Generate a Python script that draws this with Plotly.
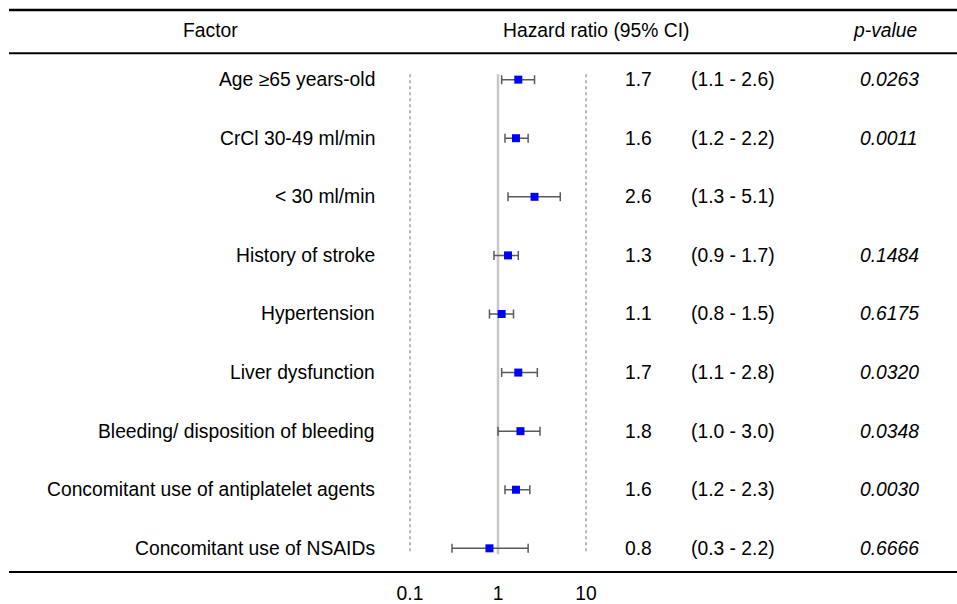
import plotly.graph_objects as go

factors = ["Age ≥65 years-old", "CrCl 30-49 ml/min", "< 30 ml/min", "History of stroke",
           "Hypertension", "Liver dysfunction", "Bleeding/ disposition of bleeding",
           "Concomitant use of antiplatelet agents", "Concomitant use of NSAIDs"]
hr = [1.7, 1.6, 2.6, 1.3, 1.1, 1.7, 1.8, 1.6, 0.8]
ci_low = [1.1, 1.2, 1.3, 0.9, 0.8, 1.1, 1.0, 1.2, 0.3]
ci_high = [2.6, 2.2, 5.1, 1.7, 1.5, 2.8, 3.0, 2.3, 2.2]
p_values = ["0.0263", "0.0011", "", "0.1484", "0.6175", "0.0320", "0.0348", "0.0030", "0.6666"]
tick_vals = [0.1, 1, 10]
tick_text = ["0.1", "1", "10"]

rows = list(range(len(factors)))
FONT = "Liberation Sans, Arial, sans-serif"
FS = 19.3

W, H = 957, 604
ML, MR, MT, MB = 9, 0, 10, 30
PW = W - ML - MR
PH = H - MT - MB
PX_PER_DEC = 88.0
X_AT_01 = 410.0
ROW0, ROWSTEP = 80.0, 58.9

xl = -1 - (X_AT_01 - ML) / PX_PER_DEC
xr = xl + PW / PX_PER_DEC
ytop = (MT - ROW0) / ROWSTEP
ybot = (H - MB - ROW0) / ROWSTEP


def px2paper_x(px):
    return (px - ML) / PW


def px2paper_y(py):
    return (H - MB - py) / PH


fig = go.Figure()

fig.add_trace(go.Scatter(
    x=hr, y=rows, mode="markers",
    marker=dict(symbol="square", size=8, color="#0000ff", line=dict(width=0)),
    error_x=dict(type="data", symmetric=False,
                 array=[h - v for h, v in zip(ci_high, hr)],
                 arrayminus=[v - l for v, l in zip(hr, ci_low)],
                 color="#5a5a5a", thickness=1.5, width=4.5),
    showlegend=False, hoverinfo="skip"))

shapes = []
shapes.append(dict(type="line", xref="x", yref="y", x0=1, x1=1, y0=-0.09, y1=8.1,
                   line=dict(color="#c8c8c8", width=2.5), layer="below"))
for v in (0.1, 10):
    shapes.append(dict(type="line", xref="x", yref="y", x0=v, x1=v, y0=-0.09, y1=8.07,
                       line=dict(color="#b8b8b8", width=2, dash="dot"), layer="below"))
for py, w in ((10, 2.5), (53.5, 2)):
    shapes.append(dict(type="line", xref="paper", yref="paper", x0=0, x1=1,
                       y0=px2paper_y(py), y1=px2paper_y(py),
                       line=dict(color="#000000", width=w)))

ann = []
def add(text, px, y, anchor="center", yref="y", italic=False):
    ann.append(dict(text=text, x=px2paper_x(px), xref="paper", y=y, yref=yref,
                    xanchor=anchor, yanchor="middle", showarrow=False,
                    font=dict(family=FONT, size=FS, color="#000000",
                              style="italic" if italic else "normal")))

hy = px2paper_y(31)
add("Factor", 210, hy, yref="paper")
add("Hazard ratio (95% CI)", 596, hy, yref="paper")
add("p-value", 885, hy, yref="paper", italic=True)

for r, f, h, lo, hi, p in zip(rows, factors, hr, ci_low, ci_high, p_values):
    add(f.replace("<", "&lt;"), 377, r, anchor="right")
    add(f"{h:.1f}", 638, r)
    add(f"({lo:.1f} - {hi:.1f})", 733, r)
    if p:
        add(p, 889, r, italic=True)

fig.update_layout(
    width=W, height=H,
    margin=dict(l=ML, r=MR, t=MT, b=MB, pad=0),
    plot_bgcolor="white", paper_bgcolor="white",
    shapes=shapes, annotations=ann,
    xaxis=dict(type="log", range=[xl, xr], showgrid=False, zeroline=False,
               tickvals=tick_vals, ticktext=tick_text, ticks="", showline=True,
               linecolor="#000000", linewidth=2,
               tickfont=dict(family=FONT, size=FS, color="#000000"),
               ticklabelstandoff=4, fixedrange=True),
    yaxis=dict(range=[ybot, ytop], visible=False, fixedrange=True),
)

fig.write_html("out.html", config={"displayModeBar": False},
               post_script="document.body.style.margin='0';document.body.style.overflow='hidden';")
